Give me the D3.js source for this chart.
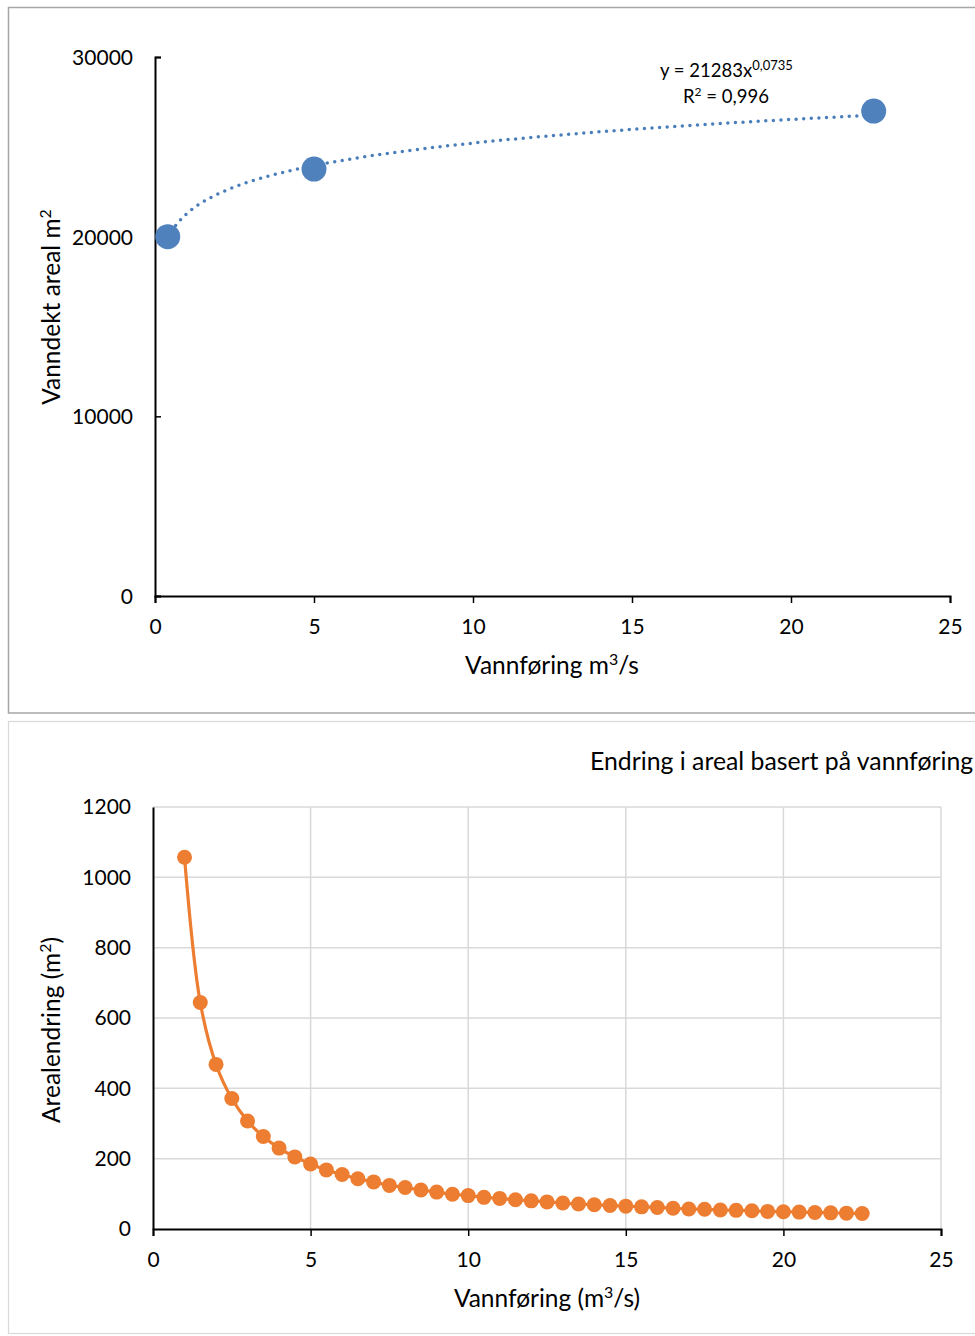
<!DOCTYPE html>
<html>
<head>
<meta charset="utf-8">
<script src="https://cdn.jsdelivr.net/npm/d3@7"></script>
<style>
  body { margin: 0; background: #fff; }
  text { font-family: Lato, "Open Sans", sans-serif; fill: #000; }
</style>
</head>
<body>
<div id="chart"></div>
<script>
// top chart: measured points
var flowTop = [0.4, 5, 22.6];
var areaTop = [20000, 23760, 26990];
// power trendline shown on the chart
var trendA = 21283, trendB = 0.0735;
var topYTicks = [0, 10000, 20000, 30000];
var xTicks = [0, 5, 10, 15, 20, 25];

// bottom chart: change in area per step
var flowBottom = [1, 1.5, 2, 2.5, 3, 3.5, 4, 4.5, 5, 5.5, 6, 6.5, 7, 7.5, 8, 8.5, 9, 9.5, 10,
  10.5, 11, 11.5, 12, 12.5, 13, 13.5, 14, 14.5, 15, 15.5, 16, 16.5, 17, 17.5, 18, 18.5, 19,
  19.5, 20, 20.5, 21, 21.5, 22, 22.5];
var changeBottom = [1057, 644, 468, 371, 307, 263, 230, 205, 185, 168, 155, 143, 134, 124, 118,
  111, 105, 99, 95, 90, 87, 83, 80, 77, 74, 71, 69, 67, 65, 63, 61, 59, 57, 56, 54, 53, 52,
  50, 49, 48, 47, 46, 45, 44];
var bottomYTicks = [0, 200, 400, 600, 800, 1000, 1200];

var W = 975, H = 1336;
var svg = d3.select('#chart').append('svg').attr('width', W).attr('height', H);

// text with a raised part, e.g. m3 -> m + superscript 3
function supText(sel, parts, size) {
  var shift = 0;
  parts.forEach(function (p) {
    if (p.sup) {
      sel.append('tspan').attr('dy', -size * 0.38).style('font-size', (size * 0.65) + 'px').text(p.sup);
      shift = size * 0.38;
    } else {
      sel.append('tspan').attr('dy', shift).text(p.t);
      shift = 0;
    }
  });
}

// panel frames
svg.append('rect').attr('x', 8.5).attr('y', 7.5).attr('width', 980).attr('height', 705.5)
  .attr('fill', 'none').attr('stroke', '#a6a6a6').attr('stroke-width', 1.5);
svg.append('rect').attr('x', 8.5).attr('y', 721.5).attr('width', 980).attr('height', 612)
  .attr('fill', 'none').attr('stroke', '#d9d9d9').attr('stroke-width', 1.2);

// ---------- top chart ----------
var x1 = d3.scaleLinear().domain([0, 25]).range([155, 950]);
var y1 = d3.scaleLinear().domain([0, 30000]).range([596, 57]);

var yAx1 = svg.append('g').attr('transform', 'translate(155,0)')
  .call(d3.axisRight(y1).tickValues(topYTicks).tickSize(6).tickFormat(d3.format('d')));
yAx1.selectAll('text').attr('x', -22).attr('text-anchor', 'end').attr('dy', '0.35em')
  .style('font-size', '21px');

var xAx1 = svg.append('g').attr('transform', 'translate(0,596)')
  .call(d3.axisBottom(x1).tickValues(xTicks).tickSize(7));
xAx1.selectAll('text').attr('y', 23).attr('dy', '0.71em').style('font-size', '21px');

[yAx1, xAx1].forEach(function (g) {
  g.select('.domain').attr('stroke', '#000').attr('stroke-width', 2);
  g.selectAll('.tick line').attr('stroke', '#000').attr('stroke-width', 1.5);
});

var trendPts = d3.range(0, 201).map(function (i) {
  var xv = flowTop[0] + (flowTop[2] - flowTop[0]) * i / 200;
  return [xv, trendA * Math.pow(xv, trendB)];
});
svg.append('path').datum(trendPts)
  .attr('d', d3.line().x(function (d) { return x1(d[0]); }).y(function (d) { return y1(d[1]); }))
  .attr('fill', 'none').attr('stroke', '#4a7ebb').attr('stroke-width', 3.5)
  .attr('stroke-linecap', 'round').attr('stroke-dasharray', '0,7.6');

svg.selectAll('.ptTop').data(flowTop).enter().append('circle')
  .attr('class', 'ptTop')
  .attr('cx', function (d) { return x1(d); })
  .attr('cy', function (d, i) { return y1(areaTop[i]); })
  .attr('r', 12.5).attr('fill', '#4f81bd');

var eq = svg.append('text').attr('x', 660).attr('y', 77).style('font-size', '18.5px');
eq.append('tspan').text('y = 21283x');
eq.append('tspan').attr('dy', -7).style('font-size', '13px').text('0,0735');
var r2 = svg.append('text').attr('x', 683).attr('y', 103).style('font-size', '18.5px');
supText(r2, [{ t: 'R' }, { sup: '2' }, { t: ' = 0,996' }], 18.5);

var xt1 = svg.append('text').attr('x', 552).attr('y', 674).attr('text-anchor', 'middle')
  .style('font-size', '24.5px');
supText(xt1, [{ t: 'Vannføring m' }, { sup: '3' }, { t: '/s' }], 24.5);
var yt1 = svg.append('text').attr('transform', 'translate(60,307) rotate(-90)').attr('text-anchor', 'middle')
  .style('font-size', '24.5px');
supText(yt1, [{ t: 'Vanndekt areal m' }, { sup: '2' }], 24.5);

// ---------- bottom chart ----------
var x2 = d3.scaleLinear().domain([0, 25]).range([153, 941]);
var y2 = d3.scaleLinear().domain([0, 1200]).range([1229, 807]);

svg.append('g').selectAll('line').data(bottomYTicks.slice(1)).enter().append('line')
  .attr('x1', 153).attr('x2', 941)
  .attr('y1', function (d) { return y2(d); }).attr('y2', function (d) { return y2(d); })
  .attr('stroke', '#d9d9d9').attr('stroke-width', 1.5);
svg.append('g').selectAll('line').data(xTicks.slice(1)).enter().append('line')
  .attr('x1', function (d) { return x2(d); }).attr('x2', function (d) { return x2(d); })
  .attr('y1', 807).attr('y2', 1229)
  .attr('stroke', '#d9d9d9').attr('stroke-width', 1.5);

var yAx2 = svg.append('g').attr('transform', 'translate(153,0)')
  .call(d3.axisLeft(y2).tickValues(bottomYTicks).tickSize(0).tickPadding(22).tickFormat(d3.format('d')));
yAx2.selectAll('text').style('font-size', '21px');

var xAx2 = svg.append('g').attr('transform', 'translate(0,1229)')
  .call(d3.axisBottom(x2).tickValues(xTicks).tickSize(7));
xAx2.selectAll('text').attr('y', 23).attr('dy', '0.71em').style('font-size', '21px');

[yAx2, xAx2].forEach(function (g) {
  g.select('.domain').attr('stroke', '#000').attr('stroke-width', 2);
  g.selectAll('.tick line').attr('stroke', '#000').attr('stroke-width', 1.5);
});

var pts2 = flowBottom.map(function (d, i) { return [d, changeBottom[i]]; });
svg.append('path').datum(pts2)
  .attr('d', d3.line().curve(d3.curveCatmullRom.alpha(0.5))
    .x(function (d) { return x2(d[0]); }).y(function (d) { return y2(d[1]); }))
  .attr('fill', 'none').attr('stroke', '#ed7d31').attr('stroke-width', 3.2);

svg.selectAll('.ptBottom').data(pts2).enter().append('circle')
  .attr('class', 'ptBottom')
  .attr('cx', function (d) { return x2(d[0]); })
  .attr('cy', function (d) { return y2(d[1]); })
  .attr('r', 7.5).attr('fill', '#ed7d31');

svg.append('text').attr('x', 590).attr('y', 770).style('font-size', '24.8px')
  .text('Endring i areal basert på vannføring');
var xt2 = svg.append('text').attr('x', 547).attr('y', 1307).attr('text-anchor', 'middle')
  .style('font-size', '24.5px');
supText(xt2, [{ t: 'Vannføring (m' }, { sup: '3' }, { t: '/s)' }], 24.5);
var yt2 = svg.append('text').attr('transform', 'translate(60,1030) rotate(-90)').attr('text-anchor', 'middle')
  .style('font-size', '24.5px');
supText(yt2, [{ t: 'Arealendring (m' }, { sup: '2' }, { t: ')' }], 24.5);
</script>
</body>
</html>
